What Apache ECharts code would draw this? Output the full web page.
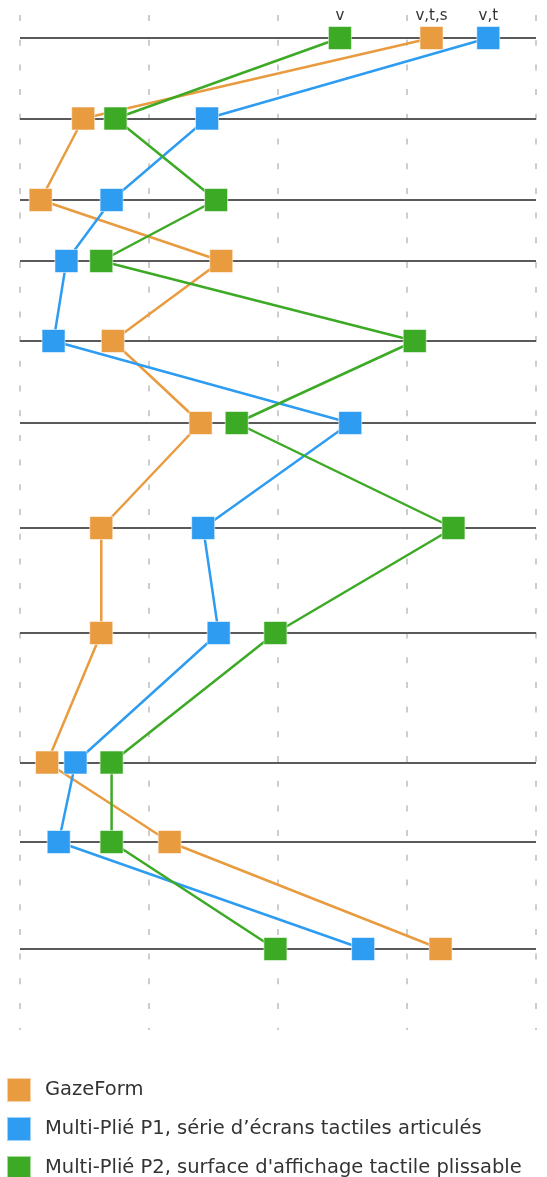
<!DOCTYPE html>
<html>
<head>
<meta charset="utf-8">
<script src="https://cdn.jsdelivr.net/npm/echarts@6/dist/echarts.min.js"></script>
<style>
  html, body { margin: 0; padding: 0; background: #fff; }
  #myChart { width: 547px; height: 1177px; }
</style>
</head>
<body>
<div id="myChart"></div>
<script>
// row positions down the chart (one per horizontal rule)
var rowPos = [23, 103.5, 185, 246, 326, 408, 513, 618, 747.5, 827, 934];

var seriesNames = [
    'GazeForm',
    'Multi-Plié P1, série d\u2019écrans tactiles articulés',
    "Multi-Plié P2, surface d'affichage tactile plissable"
];

var gazeForm = [4.19, 1.49, 1.16, 2.56, 1.72, 2.40, 1.63, 1.63, 1.21, 2.16, 4.26];
var multiP1  = [4.63, 2.45, 1.71, 1.36, 1.26, 3.56, 2.42, 2.54, 1.43, 1.30, 3.66];
var multiP2  = [3.48, 1.74, 2.52, 1.63, 4.06, 2.68, 4.36, 2.98, 1.71, 1.71, 2.98];

// annotations on the first row
var topLabels = ['v,t,s', 'v,t', 'v'];

var colors = ['#E99B3F', '#2E9CF1', '#3DAA26'];

function buildData(vals, label) {
    return vals.map(function (v, i) {
        var item = { value: [v, rowPos[i]] };
        if (i === 0) {
            item.label = { show: true, formatter: label };
        }
        return item;
    });
}

var allVals = [gazeForm, multiP1, multiP2];

var series = allVals.map(function (vals, k) {
    return {
        name: seriesNames[k],
        type: 'line',
        data: buildData(vals, topLabels[k]),
        symbol: 'rect',
        symbolSize: 23,
        z: 3 + k,
        lineStyle: { width: 2.5, color: colors[k] },
        itemStyle: {
            color: colors[k],
            borderColor: 'rgba(255,255,255,0.55)',
            borderWidth: 1
        },
        label: {
            position: 'top',
            distance: 2,
            fontFamily: 'DejaVu Sans',
            fontSize: 15,
            color: '#333'
        },
        emphasis: { disabled: true },
        animation: false
    };
});

// horizontal rules
series.push({
    name: 'rules',
    type: 'line',
    data: [],
    markLine: {
        silent: true,
        symbol: 'none',
        z: 1,
        label: { show: false },
        lineStyle: { color: '#5a5a5a', width: 2, type: 'solid' },
        data: rowPos.map(function (r) { return { yAxis: r }; })
    },
    animation: false
});

var option = {
    color: colors,
    animation: false,
    grid: {
        left: 20,
        right: 11,
        top: 15,
        bottom: 147
    },
    xAxis: {
        type: 'value',
        min: 1,
        max: 5,
        interval: 1,
        axisLine: { show: false },
        axisTick: { show: false },
        axisLabel: { show: false },
        splitLine: {
            show: true,
            lineStyle: { color: '#bdbdbd', width: 1.5, type: [6, 18.7] }
        }
    },
    yAxis: {
        type: 'value',
        inverse: true,
        min: 0,
        max: 1015,
        axisLine: { show: false },
        axisTick: { show: false },
        axisLabel: { show: false },
        splitLine: { show: false }
    },
    legend: {
        data: seriesNames,
        orient: 'vertical',
        left: 6,
        top: 1077,
        height: 200,
        padding: 0,
        itemWidth: 24,
        itemHeight: 24,
        itemGap: 13,
        icon: 'rect',
        selectedMode: false,
        textStyle: {
            fontFamily: 'DejaVu Sans',
            fontSize: 19.5,
            color: '#333',
            padding: [0, 0, 0, 9]
        }
    },
    series: series
};

var myChart = echarts.init(document.getElementById('myChart'));
myChart.setOption(option);

window.onresize = function () {
    myChart.resize();
}
</script>
</body>
</html>
